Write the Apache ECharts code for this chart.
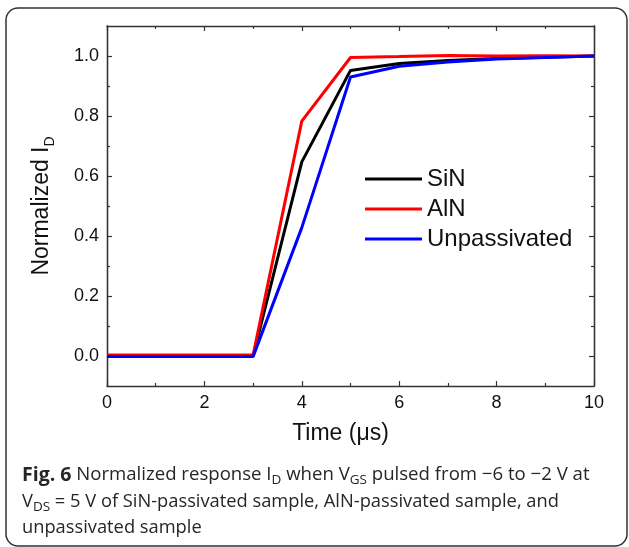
<!DOCTYPE html>
<html>
<head>
<meta charset="utf-8">
<script src="https://cdn.jsdelivr.net/npm/echarts@6/dist/echarts.min.js"></script>
<style>
html,body{margin:0;padding:0;background:#fff;}
#chart{width:629px;height:547px;}
</style>
</head>
<body>
<div id="chart"></div>
<script>
// ---- data ----
var timeUs = [0, 1, 2, 3, 4, 5, 6, 7, 8, 9, 10];
var sinValues = [0, 0, 0, 0, 0.647, 0.952, 0.975, 0.985, 0.992, 0.996, 1.0];
var alnValues = [0.003, 0.003, 0.003, 0.003, 0.783, 0.995, 0.998, 1.002, 1.0, 1.001, 1.0];
var unpassValues = [-0.002, -0.002, -0.002, -0.002, 0.428, 0.930, 0.966, 0.980, 0.990, 0.995, 1.0];
var seriesNames = ['SiN', 'AlN', 'Unpassivated'];
var yMajorTicks = [0, 0.2, 0.4, 0.6, 0.8, 1.0];
var yMinorTicks = [0.1, 0.3, 0.5, 0.7, 0.9];

function pairs(xs, ys) { return xs.map(function (x, i) { return [x, ys[i]]; }); }

var FONT = "'Liberation Sans', Arial, sans-serif";
var CAP = "'Open Sans', 'Noto Sans', sans-serif";
var axisCol = '#333';
var capCol = '#262626';

function xAx(pos, showLabel) {
  return {
    type: 'value', position: pos, min: 0, max: 10, interval: 2,
    axisLine: { show: true, onZero: false, lineStyle: { color: axisCol, width: 1.3 } },
    axisTick: { show: true, inside: true, length: 5, lineStyle: { color: axisCol, width: 1.2 } },
    minorTick: { show: true, splitNumber: 2, length: 3, lineStyle: { color: axisCol, width: 1.2 } },
    splitLine: { show: false }, minorSplitLine: { show: false },
    axisLabel: { show: showLabel, margin: 8, fontSize: 18, color: '#111', fontFamily: FONT },
    name: showLabel ? 'Time (μs)' : '',
    nameLocation: 'middle', nameGap: 36,
    nameTextStyle: { fontSize: 23, color: '#111', fontFamily: FONT, padding: [0, 20, 0, 0] }
  };
}
function yAx(pos, ticks, len, showLabel, withName) {
  var a = {
    type: 'value', position: pos, min: -0.1, max: 1.1,
    axisLine: { show: true, onZero: false, lineStyle: { color: axisCol, width: 1.3 } },
    axisTick: { show: true, inside: true, length: len, customValues: ticks, lineStyle: { color: axisCol, width: 1.2 } },
    splitLine: { show: false },
    axisLabel: { show: showLabel, customValues: ticks, margin: 8, fontSize: 18, color: '#111', fontFamily: FONT,
      formatter: function (v) { return v.toFixed(1); } }
  };
  if (withName) {
    a.name = 'Normalized I{sub|D}';
    a.nameLocation = 'middle';
    a.nameGap = 50;
    a.nameTextStyle = { fontSize: 23, color: '#111', fontFamily: FONT, lineHeight: 30,
      rich: { sub: { fontSize: 14, fontFamily: FONT, color: '#111', lineHeight: 14, verticalAlign: 'bottom' } } };
  }
  return a;
}

var chart = echarts.init(document.getElementById('chart'), null, { renderer: 'canvas' });
var colors = ['#000000', '#ff0000', '#0000ff'];
var valueSets = [sinValues, alnValues, unpassValues];
var subStyle = { fontSize: 13.5, fontFamily: CAP, fill: capCol, lineHeight: 16, verticalAlign: 'bottom' };

var option = {
  animation: false,
  backgroundColor: '#fff',
  grid: { left: 107, top: 26, right: 35, bottom: 161, containLabel: false },
  xAxis: [xAx('bottom', true), xAx('top', false)],
  yAxis: [
    yAx('left', yMajorTicks, 5, true, true),
    yAx('left', yMinorTicks, 3, false, false),
    yAx('right', yMajorTicks, 5, false, false),
    yAx('right', yMinorTicks, 3, false, false)
  ],
  legend: {
    orient: 'vertical', left: 365, top: 164, padding: 0,
    itemWidth: 57, itemHeight: 14, itemGap: 0,
    icon: 'path://M0,5.5 L57,5.5 L57,8.5 L0,8.5 Z',
    textStyle: { fontSize: 24, color: '#111', fontFamily: FONT, lineHeight: 30, padding: [0, 0, 0, 0] },
    data: seriesNames.map(function (n, i) { return { name: n, itemStyle: { color: colors[i] } }; })
  },
  series: seriesNames.map(function (n, i) {
    return {
      name: n, type: 'line', xAxisIndex: 0, yAxisIndex: 0,
      data: pairs(timeUs, valueSets[i]),
      symbol: 'none', color: colors[i],
      lineStyle: { color: colors[i], width: 3 }
    };
  }),
  graphic: [
    { type: 'rect', shape: { x: 6, y: 8, width: 621, height: 538, r: 12 },
      style: { fill: 'none', stroke: '#333', lineWidth: 1.5 }, silent: true, z: -1 },
    { type: 'text', x: 22, y: 475, style: {
        text: '{b|Fig. 6} Normalized response I{s|D} when V{s|GS} pulsed from −6 to −2 V at',
        font: '18.6px ' + CAP, fill: capCol, verticalAlign: 'middle', lineHeight: 24,
        rich: { b: { fontWeight: 'bold', fontSize: 19.5, fontFamily: CAP, fill: capCol, lineHeight: 24 },
                s: subStyle } } },
    { type: 'text', x: 22, y: 502, style: {
        text: 'V{s|DS} = 5 V of SiN-passivated sample, AlN-passivated sample, and',
        font: '18.3px ' + CAP, fill: capCol, verticalAlign: 'middle', lineHeight: 24,
        rich: { s: subStyle } } },
    { type: 'text', x: 22, y: 528, style: {
        text: 'unpassivated sample',
        font: '18.3px ' + CAP, fill: capCol, verticalAlign: 'middle' } }
  ]
};
chart.setOption(option);
</script>
</body>
</html>
